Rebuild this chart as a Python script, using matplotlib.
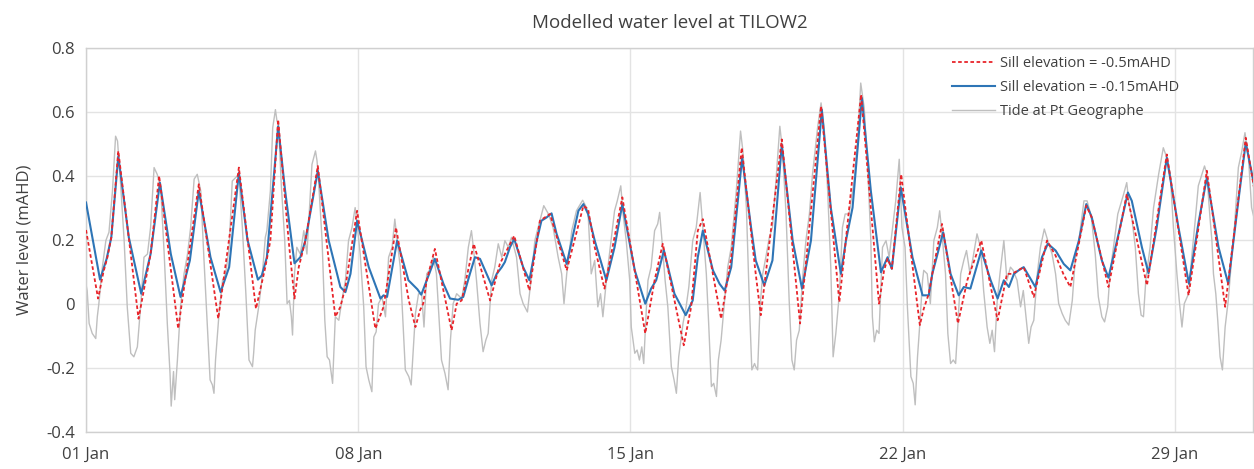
import numpy as np
import pandas as pd
import matplotlib
matplotlib.use("Agg")
import matplotlib.pyplot as plt
import matplotlib.dates as mdates

plt.rcParams['font.family'] = ['Open Sans', 'DejaVu Sans']

# time axis: days after 01 Jan 00:00
start = pd.Timestamp('2021-01-01')
x_ticks_days = [0, 7, 14, 21, 28]

# Sill elevation = -0.5mAHD (red dashed)
red_days = [0.0, 0.31, 0.45, 0.55, 0.65, 0.83, 1.35, 1.66, 1.88, 2.37, 2.90, 3.40, 3.93,
            4.37, 4.61, 4.74, 4.94, 5.21, 5.36, 5.47, 5.64, 5.96, 6.41, 6.54, 6.67, 6.97,
            7.44, 7.65, 7.97, 8.30, 8.47, 8.59, 8.67, 8.76, 8.97, 9.40, 9.53, 9.66, 9.97,
            10.39, 10.64, 11.01, 11.40, 11.67, 11.93, 12.36, 12.79, 12.91, 13.08, 13.33,
            13.79, 14.38, 14.62, 14.83, 15.37, 15.56, 15.73, 15.86, 16.33, 16.59, 16.86,
            17.22, 17.35, 17.89, 18.36, 18.90, 19.37, 19.93, 20.39, 20.52, 20.61, 20.72,
            20.96, 21.44, 21.54, 21.67, 21.76, 22.01, 22.42, 22.66, 23.02, 23.44, 23.68,
            23.81, 24.11, 24.37, 24.71, 24.93, 25.14, 25.31, 25.72, 25.86, 26.29, 26.76,
            27.28, 27.79, 28.35, 28.82, 29.29, 29.82, 30.03]
red_vals = [0.23, 0.016, 0.10, 0.145, 0.207, 0.477, -0.047, 0.155, 0.399, -0.078, 0.373, -0.047, 0.425,
            -0.016, 0.114, 0.197, 0.575, 0.197, 0.016, 0.114, 0.197, 0.43, -0.041, -0.01, 0.052, 0.29,
            -0.078, -0.01, 0.238, 0.01, -0.073, -0.02, 0.0, 0.073, 0.171, -0.083, 0.0, 0.01, 0.187,
            0.01, 0.124, 0.212, 0.041, 0.259, 0.28, 0.104, 0.306, 0.295, 0.176, 0.047,
            0.332, -0.093, 0.073, 0.187, -0.13, -0.01, 0.228, 0.264, -0.047, 0.145, 0.487,
            0.093, -0.036, 0.513, -0.062, 0.617, 0.005, 0.653, 0.0, 0.104, 0.14, 0.109,
            0.404, -0.067, -0.016, 0.031, 0.093, 0.249, -0.062, 0.073, 0.197, -0.052, 0.093,
            0.093, 0.114, 0.021, 0.197, 0.15, 0.09, 0.052, 0.306, 0.269, 0.052, 0.342,
            0.057, 0.466, 0.026, 0.415, -0.01, 0.518, 0.363]

# Sill elevation = -0.15mAHD (blue)
blue_days = [0.0, 0.36, 0.53, 0.65, 0.83, 1.10, 1.42, 1.66, 1.90, 2.18, 2.43, 2.67, 2.90, 3.20,
             3.46, 3.68, 3.93, 4.15, 4.42, 4.52, 4.65, 4.94, 5.12, 5.36, 5.51, 5.64, 5.96, 6.24,
             6.54, 6.67, 6.80, 6.97, 7.27, 7.57, 7.65, 7.74, 8.00, 8.29, 8.52, 8.62, 8.76, 8.97,
             9.19, 9.36, 9.57, 9.70, 9.87, 10.00, 10.13, 10.30, 10.43, 10.56, 10.69, 10.77,
             10.90, 11.01, 11.24, 11.40, 11.59, 11.71, 11.84, 11.97, 12.10, 12.36, 12.53,
             12.66, 12.79, 12.91, 13.08, 13.38, 13.59, 13.79, 14.11, 14.38, 14.53, 14.66,
             14.86, 15.13, 15.42, 15.60, 15.73, 15.86, 16.12, 16.29, 16.42, 16.59, 16.87,
             17.10, 17.22, 17.44, 17.65, 17.89, 18.17, 18.41, 18.64, 18.92, 19.15, 19.41,
             19.54, 19.71, 19.95, 20.18, 20.44, 20.61, 20.72, 20.95, 21.25, 21.51, 21.67,
             21.76, 22.04, 22.23, 22.44, 22.57, 22.74, 23.02, 23.26, 23.44, 23.60, 23.73,
             23.86, 23.98, 24.11, 24.41, 24.58, 24.73, 24.93, 25.14, 25.31, 25.53, 25.72,
             25.86, 26.12, 26.29, 26.55, 26.79, 26.89, 27.15, 27.32, 27.53, 27.79, 28.09,
             28.36, 28.60, 28.82, 29.12, 29.37, 29.63, 29.82, 30.03]
blue_vals = [0.316, 0.075, 0.14, 0.207, 0.461, 0.207, 0.031, 0.155, 0.378, 0.155, 0.021, 0.135, 0.352, 0.145,
             0.036, 0.114, 0.409, 0.2, 0.075, 0.088, 0.145, 0.554, 0.352, 0.126, 0.145, 0.197, 0.415, 0.197,
             0.052, 0.036, 0.093, 0.259, 0.114, 0.016, 0.026, 0.021, 0.197, 0.073, 0.045, 0.028, 0.073, 0.14,
             0.062, 0.016, 0.012, 0.021, 0.093, 0.145, 0.14, 0.093, 0.057, 0.093, 0.114, 0.13,
             0.176, 0.202, 0.114, 0.073, 0.197, 0.259, 0.269, 0.282, 0.218, 0.124, 0.218,
             0.29, 0.311, 0.28, 0.197, 0.073, 0.176, 0.311, 0.104, 0.0, 0.047, 0.073,
             0.166, 0.031, -0.036, 0.01, 0.145, 0.228, 0.104, 0.062, 0.041, 0.114, 0.456,
             0.238, 0.135, 0.057, 0.135, 0.497, 0.197, 0.047, 0.197, 0.606, 0.3, 0.093,
             0.197, 0.3, 0.642, 0.352, 0.098, 0.145, 0.109, 0.363, 0.145, 0.026, 0.026,
             0.093, 0.223, 0.093, 0.026, 0.052, 0.047, 0.166, 0.073, 0.016, 0.073, 0.052,
             0.093, 0.104, 0.114, 0.052, 0.145, 0.187, 0.166, 0.124, 0.104, 0.197, 0.311,
             0.27, 0.135, 0.081, 0.218, 0.347, 0.321, 0.176, 0.095, 0.238, 0.456, 0.238,
             0.062, 0.249, 0.394, 0.176, 0.062, 0.321, 0.503, 0.373]

# Tide at Pt Geographe (grey)
tide_days = [0.0, 0.03, 0.08, 0.16, 0.25, 0.29, 0.33, 0.42, 0.51, 0.59, 0.68, 0.76, 0.81, 0.89,
             0.98, 1.06, 1.15, 1.23, 1.32, 1.41, 1.49, 1.58, 1.66, 1.75, 1.83, 1.92, 2.01, 2.09,
             2.16, 2.19, 2.25, 2.28, 2.35, 2.43, 2.52, 2.61, 2.69, 2.78, 2.86, 2.95, 3.03, 3.12,
             3.19, 3.25, 3.29, 3.33, 3.42, 3.51, 3.59, 3.68, 3.76, 3.85, 3.93, 4.02, 4.11, 4.19,
             4.28, 4.31, 4.35, 4.44, 4.52, 4.61, 4.65, 4.74, 4.80, 4.87, 4.91, 4.95, 5.02, 5.11,
             5.17, 5.23, 5.28, 5.31, 5.36, 5.42, 5.51, 5.60, 5.68, 5.77, 5.81, 5.90, 5.94, 5.98,
             6.07, 6.14, 6.20, 6.26, 6.34, 6.41, 6.50, 6.58, 6.67, 6.75, 6.84, 6.92, 6.97, 7.05,
             7.14, 7.20, 7.27, 7.35, 7.40, 7.46, 7.52, 7.61, 7.70, 7.78, 7.87, 7.94, 8.00, 8.08,
             8.17, 8.21, 8.30, 8.36, 8.42, 8.47, 8.55, 8.63, 8.69, 8.76, 8.83, 8.93, 9.01, 9.14,
             9.23, 9.31, 9.37, 9.44, 9.53, 9.66, 9.74, 9.83, 9.91, 9.96, 10.04, 10.13, 10.21,
             10.28, 10.34, 10.43, 10.51, 10.60, 10.69, 10.77, 10.86, 10.94, 11.07, 11.16, 11.24,
             11.35, 11.46, 11.54, 11.67, 11.77, 11.89, 12.01, 12.14, 12.23, 12.29, 12.36, 12.49,
             12.61, 12.77, 12.87, 12.91, 12.99, 13.08, 13.16, 13.23, 13.29, 13.38, 13.46, 13.59,
             13.66, 13.75, 13.81, 13.89, 13.98, 14.02, 14.11, 14.17, 14.23, 14.29, 14.34, 14.41,
             14.45, 14.53, 14.62, 14.70, 14.75, 14.81, 14.89, 14.96, 15.05, 15.12, 15.18, 15.24,
             15.35, 15.43, 15.50, 15.60, 15.69, 15.79, 15.86, 15.95, 16.01, 16.08, 16.14, 16.21,
             16.26, 16.33, 16.42, 16.50, 16.59, 16.72, 16.83, 16.89, 16.98, 17.06, 17.12, 17.19,
             17.22, 17.27, 17.33, 17.40, 17.48, 17.57, 17.65, 17.74, 17.84, 17.91, 18.00, 18.08,
             18.15, 18.21, 18.27, 18.34, 18.42, 18.51, 18.60, 18.68, 18.81, 18.90, 18.98, 19.07,
             19.15, 19.21, 19.28, 19.37, 19.45, 19.52, 19.62, 19.75, 19.84, 19.92, 20.01, 20.10,
             20.18, 20.22, 20.27, 20.33, 20.39, 20.48, 20.57, 20.65, 20.74, 20.82, 20.91, 20.98,
             21.06, 21.12, 21.21, 21.27, 21.32, 21.38, 21.44, 21.51, 21.54, 21.63, 21.71, 21.80,
             21.89, 21.95, 22.01, 22.10, 22.16, 22.23, 22.30, 22.36, 22.42, 22.49, 22.57, 22.64,
             22.73, 22.81, 22.91, 23.00, 23.08, 23.17, 23.24, 23.30, 23.36, 23.43, 23.50, 23.60,
             23.68, 23.77, 23.84, 23.94, 24.03, 24.10, 24.16, 24.24, 24.30, 24.37, 24.46, 24.54,
             24.64, 24.73, 24.84, 24.93, 25.01, 25.10, 25.18, 25.27, 25.36, 25.44, 25.53, 25.66,
             25.74, 25.83, 25.86, 25.95, 26.03, 26.12, 26.19, 26.27, 26.33, 26.42, 26.53, 26.68,
             26.76, 26.82, 26.89, 26.98, 27.06, 27.13, 27.19, 27.25, 27.36, 27.45, 27.58, 27.70,
             27.79, 27.88, 27.96, 28.05, 28.11, 28.18, 28.24, 28.35, 28.43, 28.52, 28.60, 28.76,
             28.82, 28.90, 28.95, 28.99, 29.05, 29.10, 29.16, 29.22, 29.29, 29.37, 29.46, 29.53,
             29.63, 29.72, 29.80, 29.89, 29.97, 30.03]
tide_vals = [0.06, 0.04, -0.062, -0.093, -0.109, -0.041, 0.0, 0.114, 0.197, 0.223, 0.352, 0.523, 0.508, 0.373,
             0.197, -0.01, -0.155, -0.166, -0.135, 0.0, 0.145, 0.155, 0.238, 0.425, 0.404, 0.363, 0.155, -0.062,
             -0.218, -0.32, -0.212, -0.30, -0.176, -0.01, 0.093, 0.155, 0.238, 0.389, 0.404, 0.352, 0.145, -0.073,
             -0.238, -0.254, -0.28, -0.176, -0.031, 0.073, 0.093, 0.176, 0.383, 0.394, 0.404, 0.238, 0.031, -0.176,
             -0.197, -0.155, -0.083, -0.01, 0.073, 0.207, 0.228, 0.352, 0.549, 0.606, 0.57, 0.56, 0.373, 0.197,
             0.0, 0.01, -0.041, -0.098, 0.093, 0.176, 0.155, 0.228, 0.155, 0.352, 0.435, 0.477, 0.446, 0.383,
             0.197, -0.052, -0.166, -0.176, -0.249, -0.041, -0.052, 0.01, 0.073, 0.197, 0.238, 0.30, 0.249, 0.155,
             -0.01, -0.197, -0.238, -0.275, -0.104, -0.088, 0.0, 0.021, -0.041, 0.145, 0.176, 0.264, 0.197, 0.114,
             -0.104, -0.207, -0.228, -0.254, -0.135, -0.031, 0.031, 0.03, -0.073, 0.093, 0.104, 0.145, 0.093, -0.176,
             -0.218, -0.269, -0.114, 0.0, 0.031, 0.016, 0.073, 0.176, 0.228, 0.176, 0.073, -0.062, -0.15,
             -0.114, -0.093, 0.073, 0.114, 0.187, 0.145, 0.197, 0.176, 0.207, 0.145, 0.031, 0.0,
             -0.026, 0.093, 0.197, 0.259, 0.306, 0.28, 0.238, 0.145, 0.093, 0.0, 0.093, 0.228,
             0.29, 0.323, 0.30, 0.28, 0.093, 0.135, -0.01, 0.031, -0.041, 0.073, 0.155, 0.29,
             0.321, 0.368, 0.28, 0.197, 0.073, -0.073, -0.155, -0.145, -0.176, -0.135, -0.187, -0.01,
             0.073, 0.114, 0.228, 0.249, 0.285, 0.197, 0.073, -0.01, -0.197, -0.238, -0.28, -0.166,
             -0.062, -0.01, 0.052, 0.197, 0.238, 0.347, 0.238, 0.093, -0.062, -0.259, -0.249, -0.29,
             -0.176, -0.114, 0.01, 0.114, 0.176, 0.352, 0.539, 0.477, 0.30, -0.01, -0.207, -0.187,
             -0.197, -0.207, -0.01, 0.093, 0.145, 0.207, 0.238, 0.383, 0.554, 0.477, 0.28, 0.01,
             -0.176, -0.207, -0.114, -0.083, 0.073, 0.197, 0.28, 0.404, 0.549, 0.627, 0.549, 0.352,
             0.114, -0.166, -0.093, 0.031, 0.238, 0.28, 0.28, 0.383, 0.508, 0.689, 0.611, 0.425,
             0.197, -0.041, -0.119, -0.083, -0.093, 0.176, 0.197, 0.145, 0.238, 0.321, 0.451, 0.238,
             0.176, -0.01, -0.228, -0.249, -0.316, -0.166, -0.062, 0.073, 0.104, 0.093, 0.0, 0.197,
             0.238, 0.29, 0.218, 0.093, -0.093, -0.187, -0.176, -0.187, -0.062, 0.093, 0.135, 0.166,
             0.093, 0.145, 0.218, 0.176, 0.041, -0.073, -0.124, -0.083, -0.15, 0.01, 0.093, 0.197,
             0.073, 0.114, 0.104, 0.073, -0.01, 0.041, -0.031, -0.124, -0.073, -0.052, 0.093, 0.176,
             0.233, 0.197, 0.155, 0.093, 0.0, -0.031, -0.052, -0.067, 0.01, 0.145, 0.197, 0.321,
             0.321, 0.28, 0.259, 0.155, 0.021, -0.041, -0.057, -0.01, 0.093, 0.176, 0.28, 0.342,
             0.378, 0.311, 0.269, 0.176, 0.031, -0.036, -0.041, 0.073, 0.176, 0.30, 0.404, 0.487,
             0.456, 0.404, 0.238, 0.093, 0.01, -0.073, 0.0, 0.031, 0.145, 0.259, 0.368, 0.43,
             0.404, 0.269, 0.197, 0.093, 0.031, -0.052, -0.166, -0.207, -0.073, 0.01, 0.145, 0.238,
             0.425, 0.477, 0.534, 0.456, 0.30, 0.269]


def to_time(days):
    return start + pd.to_timedelta(np.array(days), unit='D')


fig = plt.figure(figsize=(12.54, 4.69), dpi=100)
ax = fig.add_axes([0.0686, 0.0795, 0.9304, 0.8192])

ax.plot(to_time(tide_days), tide_vals, color='#bfbfbf', lw=1.0, zorder=2,
        label='Tide at Pt Geographe')
ax.plot(to_time(blue_days), blue_vals, color='#2e75b6', lw=1.5, zorder=3,
        label='Sill elevation = -0.15mAHD')
ax.plot(to_time(red_days), red_vals, color='#e8242a', lw=1.3, zorder=4,
        dashes=(2.0, 1.4), label='Sill elevation = -0.5mAHD')

ax.set_xlim(start, start + pd.Timedelta(days=30))
ax.set_ylim(-0.4, 0.8)
ax.set_yticks(np.arange(-0.4, 0.81, 0.2))
ax.set_yticklabels(['-0.4', '-0.2', '0', '0.2', '0.4', '0.6', '0.8'])
ax.set_xticks(to_time(x_ticks_days))
ax.xaxis.set_major_formatter(mdates.DateFormatter('%d %b'))

ax.grid(True, color='#e3e3e3', lw=1.0)
ax.set_axisbelow(True)
for s in ax.spines.values():
    s.set_color('#d0d0d0')
    s.set_linewidth(1.0)
ax.tick_params(axis='y', length=0, labelsize=12, colors='#404040', pad=8)
ax.tick_params(axis='x', length=0, labelsize=12, colors='#404040', pad=11)

ax.set_ylabel('Water level (mAHD)', fontsize=12, color='#404040', labelpad=10)
ax.set_title('Modelled water level at TILOW2', fontsize=13.5, color='#404040', pad=14)

h, l = ax.get_legend_handles_labels()
order = [2, 1, 0]
leg = ax.legend([h[i] for i in order], [l[i] for i in order], loc='upper right',
                bbox_to_anchor=(0.948, 1.012), frameon=False, fontsize=10.5,
                handlelength=3.0, handletextpad=0.3, labelspacing=0.62)
for t in leg.get_texts():
    t.set_color('#404040')

fig.savefig('out.png', dpi=100)
